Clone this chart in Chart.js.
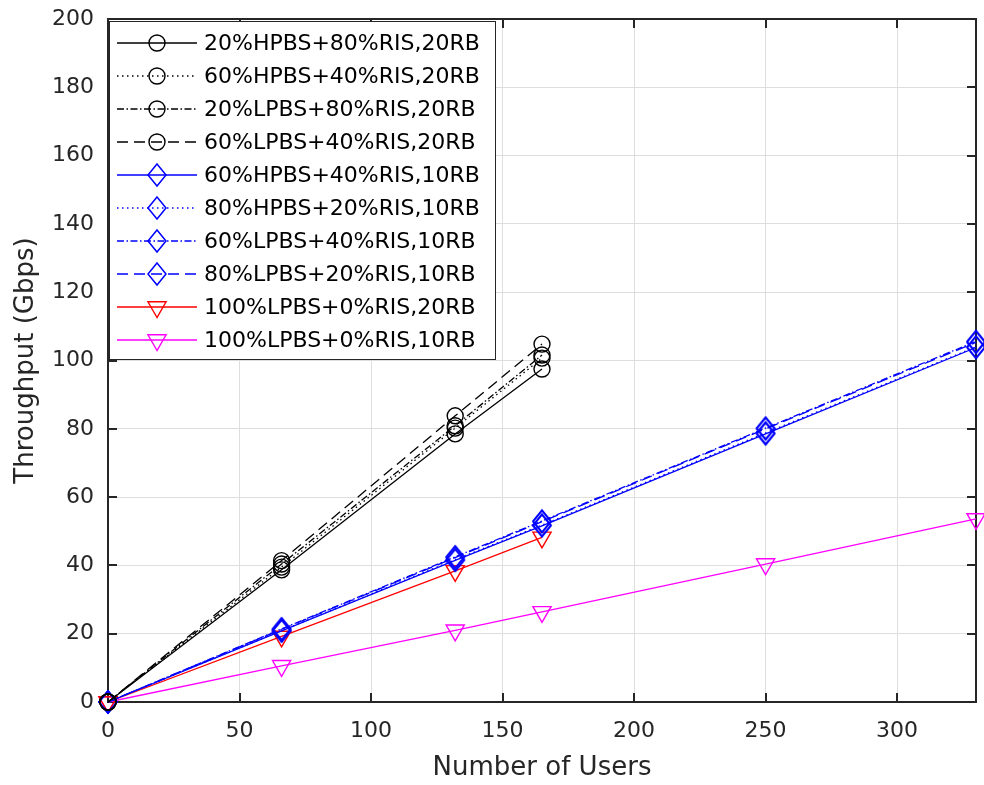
<!DOCTYPE html>
<html>
<head>
<meta charset="utf-8">
<title>Throughput vs Number of Users</title>
<script src="https://cdn.jsdelivr.net/npm/chart.js@4.4.1/dist/chart.umd.min.js"></script>
<style>
  body { margin: 0; background: #fff; }
  canvas { display: block; }
</style>
</head>
<body>
<canvas id="throughputChart" width="984" height="785"></canvas>
<script>
// x values (number of users)
const users20RB = [0, 66, 132, 165];
const users10RB = [0, 66, 132, 165, 250, 330];

// throughput in Gbps, 20 resource blocks
const hp20ris80rb20 = [0, 38.7, 78.5, 97.5];
const hp60ris40rb20 = [0, 39.5, 80.2, 100.7];
const lp20ris80rb20 = [0, 40.4, 80.9, 101.6];
const lp60ris40rb20 = [0, 41.4, 83.8, 104.8];

// throughput in Gbps, 10 resource blocks
const hp60ris40rb10 = [0, 20.8, 41.5, 51.6, 78.5, 103.8];
const hp80ris20rb10 = [0, 20.9, 41.7, 51.8, 78.8, 104.0];
const lp60ris40rb10 = [0, 21.4, 42.5, 53.0, 80.2, 105.6];
const lp80ris20rb10 = [0, 21.3, 42.3, 52.8, 80.0, 105.3];

// baselines without RIS
const lp100rb20 = [0, 19.2, 38.4, 48.2];
const lp100rb10 = [0, 10.6, 21.0, 26.4, 40.4, 53.6];

const seriesLabels = [
  '20%HPBS+80%RIS,20RB',
  '60%HPBS+40%RIS,20RB',
  '20%LPBS+80%RIS,20RB',
  '60%LPBS+40%RIS,20RB',
  '60%HPBS+40%RIS,10RB',
  '80%HPBS+20%RIS,10RB',
  '60%LPBS+40%RIS,10RB',
  '80%LPBS+20%RIS,10RB',
  '100%LPBS+0%RIS,20RB',
  '100%LPBS+0%RIS,10RB'
];

const xTicks = [0, 50, 100, 150, 200, 250, 300];
const yTicks = [0, 20, 40, 60, 80, 100, 120, 140, 160, 180, 200];

const FONT = 'DejaVu Sans';
const TEXT = '#262626';

const SOLID = [];
const DOTTED = [1.5, 3.5];
const DASHDOT = [7, 2.5, 1.5, 2.5];
const DASHED = [11, 6];

// diamond marker, a bit taller than wide
function diamondImage(color) {
  const c = document.createElement('canvas');
  c.width = 22;
  c.height = 26;
  const g = c.getContext('2d');
  g.strokeStyle = color;
  g.lineWidth = 1.5;
  g.beginPath();
  g.moveTo(11, 2);
  g.lineTo(20, 13);
  g.lineTo(11, 24);
  g.lineTo(2, 13);
  g.closePath();
  g.stroke();
  return c;
}
const blueDiamond = diamondImage('#0000ff');

function series(idx, xs, ys, color, dash, marker) {
  const ds = {
    label: seriesLabels[idx],
    data: xs.map((x, i) => ({ x: x, y: ys[i] })),
    borderColor: color,
    borderWidth: 1.3,
    borderDash: dash,
    pointBorderColor: color,
    pointBackgroundColor: 'rgba(0,0,0,0)',
    pointBorderWidth: 1.4,
    fill: false,
    tension: 0,
    clip: false,
    marker: marker
  };
  if (marker === 'circle') {
    ds.pointStyle = 'circle';
    ds.pointRadius = 8;
  } else if (marker === 'diamond') {
    ds.pointStyle = blueDiamond;
    ds.pointRadius = 10;
  } else {
    ds.pointStyle = 'triangle';
    ds.pointRotation = 180;
    ds.pointRadius = 10.5;
  }
  return ds;
}

const datasets = [
  series(0, users20RB, hp20ris80rb20, '#000000', SOLID, 'circle'),
  series(1, users20RB, hp60ris40rb20, '#000000', DOTTED, 'circle'),
  series(2, users20RB, lp20ris80rb20, '#000000', DASHDOT, 'circle'),
  series(3, users20RB, lp60ris40rb20, '#000000', DASHED, 'circle'),
  series(4, users10RB, hp60ris40rb10, '#0000ff', SOLID, 'diamond'),
  series(5, users10RB, hp80ris20rb10, '#0000ff', DOTTED, 'diamond'),
  series(6, users10RB, lp60ris40rb10, '#0000ff', DASHDOT, 'diamond'),
  series(7, users10RB, lp80ris20rb10, '#0000ff', DASHED, 'diamond'),
  series(8, users20RB, lp100rb20, '#ff0000', SOLID, 'triangle'),
  series(9, users10RB, lp100rb10, '#ff00ff', SOLID, 'triangle')
];

// keep the plot area fixed: no extra room for overhanging tick labels
function noLabelPadding(s) {
  s.paddingTop = 0;
  s.paddingBottom = 0;
  s.paddingLeft = 0;
  s.paddingRight = 0;
}

// axes box with inward tick marks on all four sides
const axesBox = {
  id: 'axesBox',
  beforeDatasetsDraw(chart) {
    const { ctx, chartArea: a, scales } = chart;
    ctx.save();
    ctx.strokeStyle = TEXT;
    ctx.lineWidth = 2;
    ctx.setLineDash([]);
    const tl = 9;
    ctx.beginPath();
    xTicks.forEach(v => {
      const x = Math.round(scales.x.getPixelForValue(v));
      ctx.moveTo(x, a.bottom); ctx.lineTo(x, a.bottom - tl);
      ctx.moveTo(x, a.top); ctx.lineTo(x, a.top + tl);
    });
    yTicks.forEach(v => {
      const y = Math.round(scales.y.getPixelForValue(v));
      ctx.moveTo(a.left, y); ctx.lineTo(a.left + tl, y);
      ctx.moveTo(a.right, y); ctx.lineTo(a.right - tl, y);
    });
    ctx.stroke();
    ctx.strokeRect(a.left, a.top, a.right - a.left, a.bottom - a.top);
    ctx.restore();
  }
};

// legend box in the upper left corner of the plot
const lineLegend = {
  id: 'lineLegend',
  afterDatasetsDraw(chart) {
    const { ctx } = chart;
    const box = { left: 109, top: 21, right: 495, bottom: 359 };
    ctx.save();
    ctx.fillStyle = '#ffffff';
    ctx.fillRect(box.left, box.top, box.right - box.left, box.bottom - box.top);
    ctx.strokeStyle = TEXT;
    ctx.lineWidth = 1;
    ctx.strokeRect(box.left + 0.5, box.top + 0.5, box.right - box.left, box.bottom - box.top);

    chart.data.datasets.forEach((ds, i) => {
      const y = 43 + i * 33;
      const mx = 157;
      ctx.strokeStyle = ds.borderColor;
      ctx.lineWidth = ds.borderWidth;
      ctx.setLineDash(ds.borderDash);
      ctx.beginPath();
      ctx.moveTo(117, y);
      ctx.lineTo(197, y);
      ctx.stroke();
      ctx.setLineDash([]);
      ctx.lineWidth = ds.pointBorderWidth;
      if (ds.marker === 'circle') {
        ctx.beginPath();
        ctx.arc(mx, y, ds.pointRadius, 0, Math.PI * 2);
        ctx.stroke();
      } else if (ds.marker === 'diamond') {
        ctx.drawImage(ds.pointStyle, mx - 11, y - 13);
      } else {
        const r = ds.pointRadius;
        ctx.beginPath();
        ctx.moveTo(mx, y + r);
        ctx.lineTo(mx - 0.866 * r, y - 0.5 * r);
        ctx.lineTo(mx + 0.866 * r, y - 0.5 * r);
        ctx.closePath();
        ctx.stroke();
      }
      ctx.fillStyle = '#000000';
      ctx.font = '22px "' + FONT + '"';
      ctx.textBaseline = 'middle';
      ctx.textAlign = 'left';
      ctx.fillText(ds.label, 204, y + 1);
    });
    ctx.restore();
  }
};

new Chart(document.getElementById('throughputChart'), {
  type: 'line',
  data: { datasets: datasets },
  plugins: [axesBox, lineLegend],
  options: {
    responsive: false,
    animation: false,
    devicePixelRatio: 1,
    layout: { autoPadding: false, padding: { top: 19, right: 8, left: 0, bottom: 0 } },
    plugins: {
      legend: { display: false },
      tooltip: { enabled: false }
    },
    scales: {
      x: {
        type: 'linear',
        min: 0,
        max: 330,
        afterBuildTicks: s => { s.ticks = xTicks.map(v => ({ value: v })); },
        afterFit: s => { s.height = 83; noLabelPadding(s); },
        grid: { color: '#dedede', lineWidth: 1, drawTicks: false },
        border: { display: false },
        ticks: {
          padding: 16,
          maxRotation: 0,
          color: TEXT,
          font: { family: FONT, size: 22 }
        },
        title: {
          display: true,
          text: 'Number of Users',
          color: TEXT,
          padding: { top: 0, bottom: 1.5 },
          font: { family: FONT, size: 26, lineHeight: 1.2 }
        }
      },
      y: {
        min: 0,
        max: 200,
        afterBuildTicks: s => { s.ticks = yTicks.map(v => ({ value: v })); },
        afterFit: s => { s.width = 108; noLabelPadding(s); },
        grid: { color: '#dedede', lineWidth: 1, drawTicks: false },
        border: { display: false },
        ticks: {
          padding: 14,
          color: TEXT,
          font: { family: FONT, size: 22 }
        },
        title: {
          display: true,
          text: 'Throughput (Gbps)',
          color: TEXT,
          padding: { top: 10.5, bottom: 0 },
          font: { family: FONT, size: 26, lineHeight: 1.2 }
        }
      }
    }
  }
});
</script>
</body>
</html>
